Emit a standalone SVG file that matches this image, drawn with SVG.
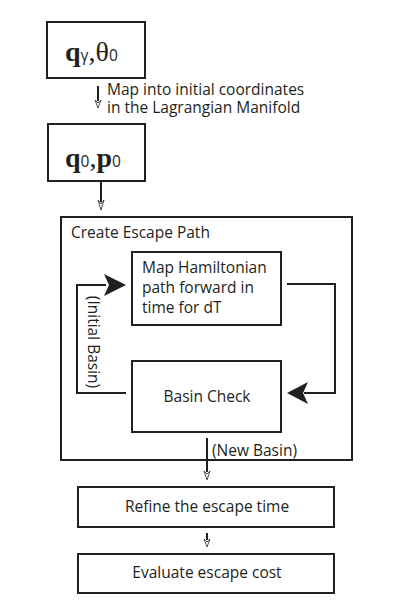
<svg xmlns="http://www.w3.org/2000/svg" width="415" height="600" viewBox="0 0 415 600">
<style>
.box{fill:none;stroke:#231f20;stroke-width:2}
.ln{fill:none;stroke:#231f20;stroke-width:2}
.t{font-family:"Open Sans","Noto Sans",sans-serif;font-size:15.5px;fill:#231f20}
.m{font-family:"Liberation Serif",serif;fill:#231f20}
.ah{fill:#231f20;stroke:none}
.oh{fill:#fff;stroke:#231f20;stroke-width:0.8}
</style>
<rect width="415" height="600" fill="#fff"/>
<g id="n1">
<rect class="box" x="47" y="22" width="98" height="56"/>
<text class="m" x="65" y="61" font-size="28"><tspan font-weight="bold">q</tspan><tspan class="t" font-size="14">γ</tspan><tspan>,θ</tspan><tspan class="t" font-size="17">0</tspan></text>
</g>
<g id="n2">
<rect class="box" x="48" y="124" width="97" height="57"/>
<text class="m" x="65" y="167" font-size="28"><tspan font-weight="bold">q</tspan><tspan class="t" font-size="17">0</tspan><tspan>,</tspan><tspan font-weight="bold">p</tspan><tspan class="t" font-size="17">0</tspan></text>
</g>
<g id="n3">
<rect class="box" x="61" y="217" width="291" height="243"/>
<text class="t" x="71" y="238">Create Escape Path</text>
</g>
<g id="n4">
<rect class="box" x="132" y="252" width="149" height="73"/>
<text class="t" x="142" y="273">Map Hamiltonian</text>
<text class="t" x="142" y="293">path forward in</text>
<text class="t" x="142" y="313">time for dT</text>
</g>
<g id="n5">
<rect class="box" x="132" y="361" width="149" height="71"/>
<text class="t" x="207" y="402" text-anchor="middle">Basin Check</text>
</g>
<g id="n6">
<rect class="box" x="78" y="487" width="256" height="40"/>
<text class="t" x="207" y="512" text-anchor="middle">Refine the escape time</text>
</g>
<g id="n7">
<rect class="box" x="78" y="554" width="256" height="39"/>
<text class="t" x="207" y="578" text-anchor="middle">Evaluate escape cost</text>
</g>
<g id="connectors">
<line class="ln" x1="98" y1="86" x2="98" y2="101"/>
<path class="oh" d="M95,100 L98,108 L101,100 L98,103 Z"/>
<text class="t" x="107" y="95">Map into initial coordinates</text>
<text class="t" x="107" y="113">in the Lagrangian Manifold</text>
<line class="ln" x1="101" y1="181" x2="101" y2="202"/>
<path class="oh" d="M98,200 L101,210 L104,200 L101,204 Z"/>
<polyline class="ln" points="287,284 335,284 335,393 304,393"/>
<path class="ah" d="M287,393 L308,382 L303,393 L308,404 Z"/>
<polyline class="ln" points="126,393 77,393 77,285 106,285"/>
<path class="ah" d="M126,285 L104,274 L109,285 L104,296 Z"/>
<text class="t" transform="translate(88,342) rotate(90)" text-anchor="middle">(Initial Basin)</text>
<line class="ln" x1="207" y1="438" x2="207" y2="472"/>
<path class="oh" d="M204,471 L207,480 L210,471 L207,474 Z"/>
<text class="t" x="212" y="456">(New Basin)</text>
<line class="ln" x1="207" y1="533" x2="207" y2="540"/>
<path class="oh" d="M204,539 L207,547 L210,539 L207,542 Z"/>
</g>
</svg>
